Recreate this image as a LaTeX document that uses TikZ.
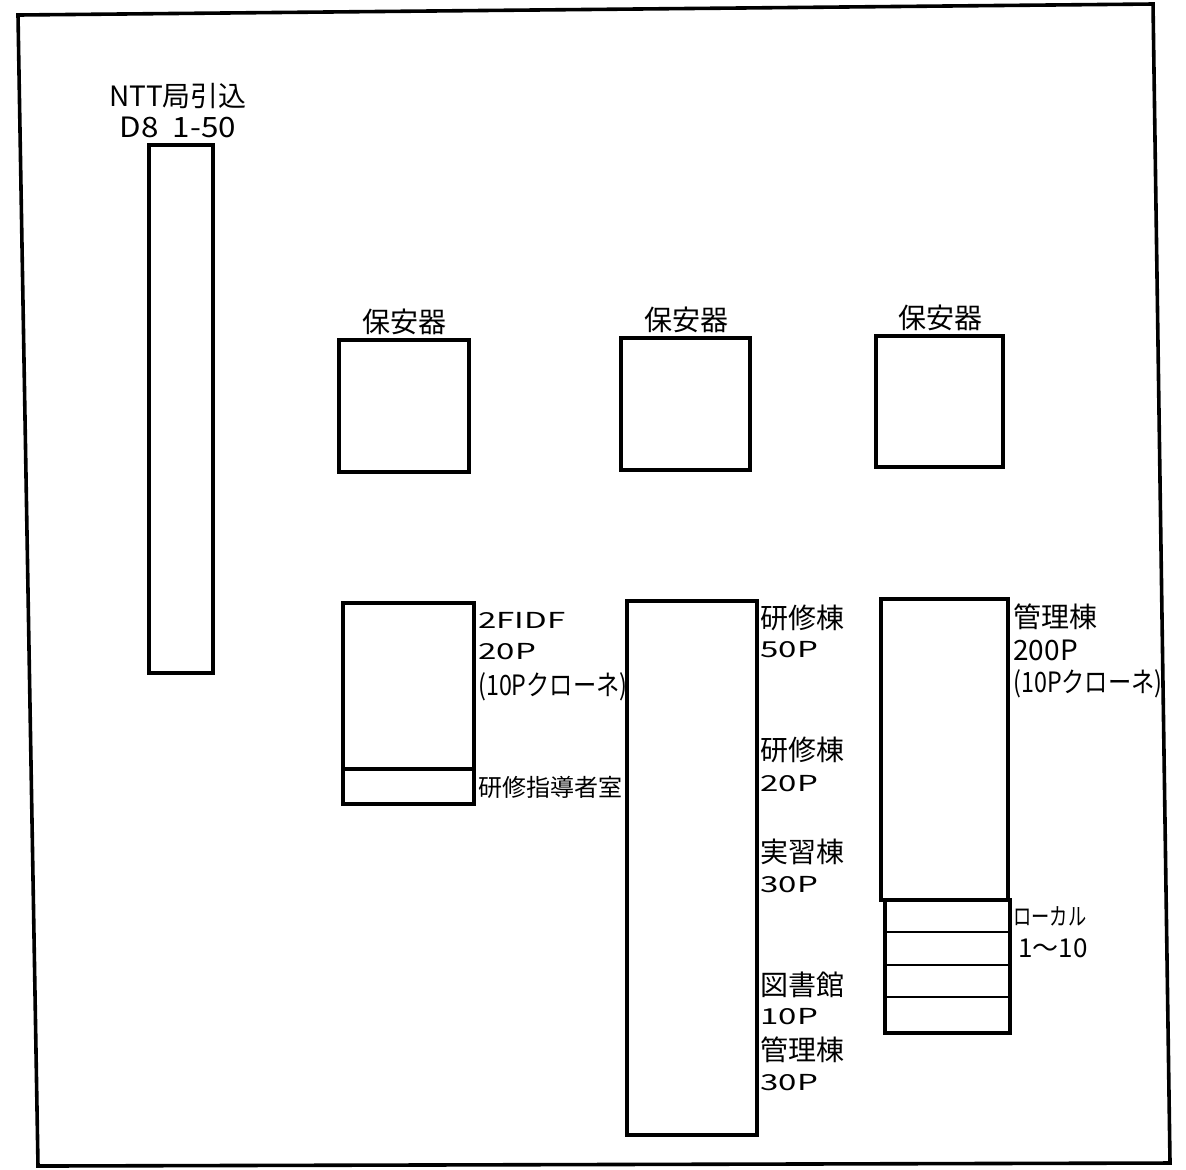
\documentclass[tikz,border=0pt]{standalone}
\usepackage{fontspec}
\setmainfont{Noto Sans CJK JP}
\newfontfamily\widefont[FakeStretch=1.5]{Noto Sans CJK JP}
\usetikzlibrary{positioning}

\begin{document}
\begin{tikzpicture}[x=0.5pt,y=-0.5pt,
  box/.style={draw=black,line width=1.8pt},
  thin/.style={draw=black,line width=1.2pt},
  lbl/.style={anchor=west,inner sep=0pt,font=\fontsize{14}{16}\selectfont},
  num/.style={anchor=west,inner sep=0pt,font=\widefont\fontsize{11}{13}\selectfont},
  small/.style={anchor=west,inner sep=0pt,font=\fontsize{12}{14}\selectfont},
  narrow/.style={xscale=#1,transform shape},
  top/.style={inner sep=0pt,font=\fontsize{14}{16}\selectfont}]
\useasboundingbox (0,0) rectangle (1186,1169);
% frame
\coordinate (tl) at (18,15);
\coordinate (tr) at (1153,4);
\coordinate (br) at (1170,1163);
\coordinate (bl) at (38,1166);
\draw[box] (tl) -- (tr) -- (br) -- (bl) -- cycle;
% NTT
\draw[box] (149,145) rectangle (213,673);
\node[top] (ntt) at (178,96) {NTT局引込};
\node[top,narrow=1.12] (d8) at (178,127) {D8\ \ 1-50};
% 保安器
\draw[box] (339,340) rectangle (469,472);
\draw[box] (621,338) rectangle (750,470);
\draw[box] (876,336) rectangle (1003,467);
\node[top] (hoa) at (404,322) {保安器};
\node[top] (hob) at (686,320) {保安器};
\node[top] (hoc) at (940,318) {保安器};
% 2FIDF
\draw[box] (343,603) rectangle (474,804);
\draw[box] (343,769) -- (474,769);
\node[num] (fidf) at (478,620) {2FIDF};
\node[num] (fidfp) at (478,652) {20P};
\node[lbl,narrow=0.83] (fidfk) at (478,687) {(10Pクローネ)};
\node[small] (shido) at (478,787) {研修指導者室};
% main
\draw[box] (627,601) rectangle (757,1135);
\node[lbl] (ka) at (760,618) {研修棟};
\node[num] (kap) at (760,650) {50P};
\node[lbl] (kb) at (760,750) {研修棟};
\node[num] (kbp) at (760,784) {20P};
\node[lbl] (ji) at (760,852) {実習棟};
\node[num] (jip) at (760,885) {30P};
\node[lbl] (to) at (760,985) {図書館};
\node[num] (top) at (760,1017) {10P};
\node[lbl] (ka2) at (760,1050) {管理棟};
\node[num] (ka2p) at (760,1083) {30P};
% 管理棟
\draw[box] (881,599) rectangle (1008,900);
\draw[box] (885,900) rectangle (1010,1033);
\foreach \y in {932,965,997}
  \draw[thin] (885,\y) -- (1010,\y);
\node[lbl] (kan) at (1013,617) {管理棟};
\node[lbl] (kanp) at (1013,650) {200P};
\node[lbl,narrow=0.83] (kank) at (1013,684) {(10Pクローネ)};
\node[small,narrow=0.76] (lo) at (1013,916) {ローカル};
\node[lbl,font=\fontsize{13}{15}\selectfont] (lon) at (1018,948) {1〜10};
\end{tikzpicture}
\end{document}
